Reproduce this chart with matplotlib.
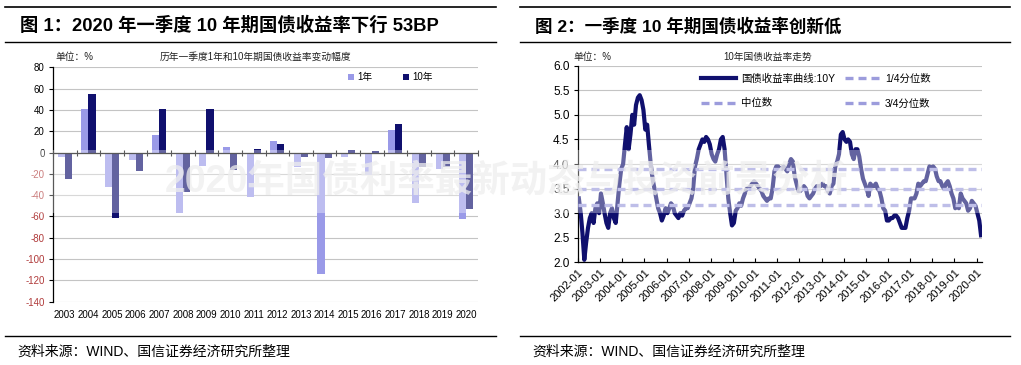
import matplotlib
matplotlib.use("Agg")
import matplotlib.pyplot as plt
from matplotlib.lines import Line2D
from matplotlib.patches import Rectangle
import numpy as np
import pandas as pd

plt.rcParams['font.family'] = ['Liberation Sans', 'Noto Sans CJK SC', 'DejaVu Sans']
plt.rcParams['axes.unicode_minus'] = False

# ---------------- data: chart 1 ----------------
years = ['2003', '2004', '2005', '2006', '2007', '2008', '2009', '2010', '2011',
         '2012', '2013', '2014', '2015', '2016', '2017', '2018', '2019', '2020']
chg_1y = [-4, 41, -32, -7, 16, -57, -13, 5, -42,
          11, -14, -114, -4, -21, 21, -47, -15, -62]
chg_10y = [-25, 55, -61, -17, 41, -37, 41, -16, 3,
           8, -4, -5, 2, 1, 27, -14, -14, -53]

# ---------------- data: chart 2 (monthly, 10Y yield, %) ----------------
y2002 = [3.30, 3.00, 2.60, 2.05, 2.40, 2.70, 2.90, 3.00, 2.80, 3.10, 3.20, 3.00]
y2003 = [3.40, 3.20, 3.00, 2.80, 2.70, 3.00, 3.10, 2.90, 2.80, 3.20, 3.60, 3.90]
y2004 = [4.00, 4.40, 4.75, 4.30, 4.60, 5.00, 4.80, 5.20, 5.35, 5.40, 5.30, 5.10]
y2005 = [4.70, 4.80, 4.40, 4.00, 3.70, 3.50, 3.30, 3.10, 3.00, 2.85, 2.95, 3.10]
y2006 = [3.00, 3.10, 3.20, 3.15, 3.00, 2.95, 2.90, 3.00, 2.95, 3.05, 3.10, 3.10]
y2007 = [3.20, 3.30, 3.50, 3.95, 4.10, 4.30, 4.40, 4.50, 4.45, 4.55, 4.50, 4.40]
y2008 = [4.20, 4.10, 4.05, 4.20, 4.30, 4.50, 4.55, 4.30, 3.80, 3.30, 3.00, 2.75]
y2009 = [2.80, 3.05, 3.10, 3.20, 3.15, 3.30, 3.40, 3.50, 3.50, 3.55, 3.60, 3.65]
y2010 = [3.60, 3.55, 3.50, 3.45, 3.35, 3.30, 3.25, 3.30, 3.30, 3.50, 3.85, 3.95]
y2011 = [3.95, 3.90, 3.90, 3.95, 3.90, 3.85, 4.00, 4.10, 4.05, 3.75, 3.60, 3.45]
y2012 = [3.45, 3.50, 3.55, 3.50, 3.35, 3.30, 3.35, 3.40, 3.50, 3.55, 3.55, 3.55]
y2013 = [3.60, 3.55, 3.55, 3.45, 3.40, 3.55, 3.60, 3.95, 4.05, 4.20, 4.60, 4.65]
y2014 = [4.50, 4.45, 4.50, 4.45, 4.20, 4.10, 4.30, 4.30, 4.15, 3.90, 3.70, 3.60]
y2015 = [3.50, 3.35, 3.60, 3.55, 3.55, 3.60, 3.50, 3.45, 3.30, 3.10, 3.05, 2.85]
y2016 = [2.85, 2.90, 2.90, 2.95, 2.95, 2.90, 2.80, 2.70, 2.70, 2.70, 2.90, 3.05]
y2017 = [3.30, 3.30, 3.30, 3.40, 3.60, 3.55, 3.60, 3.65, 3.65, 3.80, 3.95, 3.90]
y2018 = [3.95, 3.90, 3.75, 3.65, 3.65, 3.55, 3.50, 3.60, 3.65, 3.55, 3.40, 3.30]
y2019 = [3.10, 3.15, 3.10, 3.40, 3.30, 3.25, 3.20, 3.05, 3.10, 3.25, 3.20, 3.15]
y2020 = [3.00, 2.85, 2.55]
q1_val = 3.16
median_val = 3.50
q3_val = 3.90
xtick_years = list(range(2002, 2021))

yields = (y2002 + y2003 + y2004 + y2005 + y2006 + y2007 + y2008 + y2009 + y2010 +
          y2011 + y2012 + y2013 + y2014 + y2015 + y2016 + y2017 + y2018 + y2019 + y2020)
dates = pd.date_range('2002-01-01', periods=len(yields), freq='MS') + pd.Timedelta(days=14)

W, H = 1021, 365
fig = plt.figure(figsize=(W / 100, H / 100), dpi=100)
fig.patch.set_facecolor('white')

def fx(px):
    return px / W

def fy(py):
    return 1 - py / H

LIGHT = '#9a9ae8'
NAVY = '#10106e'
GRID = '#c4c4c4'
NEGRED = '#b03a3a'

# header / footer lines
for x0, x1 in [(5, 496), (520, 1010)]:
    for yy, lw in [(7, 1.2), (41.7, 1.0), (336, 1.0)]:
        fig.add_artist(Line2D([fx(x0), fx(x1)], [fy(yy), fy(yy)], color='black', lw=lw))

fig.text(fx(20), fy(26), '图 1：2020 年一季度 10 年期国债收益率下行 53BP', fontsize=13.2,
         fontweight='bold', va='center', ha='left')
fig.text(fx(535), fy(26), '图 2：一季度 10 年期国债收益率创新低', fontsize=12.6,
         fontweight='bold', va='center', ha='left')
fig.text(fx(17), fy(352), '资料来源：WIND、国信证券经济研究所整理', fontsize=10,
         va='center', ha='left')
fig.text(fx(532), fy(352), '资料来源：WIND、国信证券经济研究所整理', fontsize=10,
         va='center', ha='left')

# ---------------- chart 1 ----------------
ax1 = fig.add_axes([fx(53), fy(301.7), fx(478) - fx(53), fy(67.3) - fy(301.7)])
x = np.arange(len(years))
bw = 0.3
ax1.bar(x - bw / 2, chg_1y, width=bw, color=LIGHT, label='1年', zorder=3)
ax1.bar(x + bw / 2, chg_10y, width=bw, color=NAVY, label='10年', zorder=3)
ax1.set_xlim(-0.5, len(years) - 0.5)
ax1.set_ylim(-140, 80)
ax1.set_yticks(np.arange(-140, 81, 20))
ax1.set_yticklabels([str(v) for v in range(-140, 81, 20)], fontsize=7)
for lab, v in zip(ax1.get_yticklabels(), range(-140, 81, 20)):
    if v < 0:
        lab.set_color(NEGRED)
ax1.set_xticks(x)
ax1.set_xticklabels(years, fontsize=7)
ax1.tick_params(axis='x', length=0, pad=6)
ax1.tick_params(axis='y', length=3, width=0.8, direction='out', pad=3)
ax1.grid(axis='y', color=GRID, lw=0.8, zorder=0)
for s in ['top', 'right', 'bottom']:
    ax1.spines[s].set_visible(False)
ax1.spines['left'].set_color('black')
ax1.spines['left'].set_linewidth(0.9)
ax1.axhline(0, color='black', lw=0.9, zorder=4)
sec = ax1.secondary_xaxis(140 / 220)
sec.set_xticks(np.arange(-0.5, len(years), 1.0))
sec.set_xticklabels([])
sec.tick_params(axis='x', direction='inout', length=4, width=0.8)
sec.spines['bottom'].set_visible(False)
sec.spines['top'].set_visible(False)
ax1.legend(loc='center left', bbox_to_anchor=(0.695, 0.958), ncol=2, frameon=False,
           fontsize=7, handlelength=0.6, handleheight=0.6, handletextpad=0.3,
           columnspacing=3.2, borderaxespad=0, borderpad=0)
fig.text(fx(55), fy(57), '单位：%', fontsize=7, va='center', ha='left', color='#222222')
fig.text(fx(255), fy(57), '历年一季度1年和10年期国债收益率变动幅度', fontsize=7,
         va='center', ha='center', color='#222222')

# ---------------- chart 2 ----------------
ax2 = fig.add_axes([fx(578), fy(262.3), fx(982) - fx(578), fy(65.7) - fy(262.3)])
ax2.plot(dates, yields, color=NAVY, lw=3.0, zorder=3, label='国债收益率曲线:10Y')
dash = dict(color='#9c9cdc', lw=2.4, dashes=(2.4, 1.5), zorder=4)
ax2.axhline(median_val, label='中位数', **dash)
ax2.axhline(q1_val, label='1/4分位数', **dash)
ax2.axhline(q3_val, label='3/4分位数', **dash)
ax2.set_xlim(pd.Timestamp('2002-01-01'), pd.Timestamp('2020-03-31'))
ax2.set_ylim(2.0, 6.0)
ax2.set_yticks(np.arange(2.0, 6.01, 0.5))
ax2.set_yticklabels([f'{v:.1f}' for v in np.arange(2.0, 6.01, 0.5)], fontsize=8.5)
xt = [pd.Timestamp(f'{yy}-01-01') for yy in xtick_years]
ax2.set_xticks(xt)
ax2.set_xticklabels([f'{yy}-01' for yy in xtick_years], fontsize=8, rotation=45,
                    ha='right', rotation_mode='anchor')
ax2.tick_params(axis='x', direction='in', length=3, width=0.8, pad=4)
ax2.tick_params(axis='y', direction='out', length=3, width=0.8, pad=3)
ax2.grid(axis='y', color=GRID, lw=0.8, zorder=0)
for s in ['top', 'right']:
    ax2.spines[s].set_visible(False)
for s in ['left', 'bottom']:
    ax2.spines[s].set_color('black')
    ax2.spines[s].set_linewidth(0.9)
h, l = ax2.get_legend_handles_labels()
ax2.legend(h, l, ncol=2, loc='upper left',
           bbox_to_anchor=(0.305, 0.96), frameon=False, fontsize=7.5,
           handlelength=3.3, handletextpad=0.5, labelspacing=1.4, columnspacing=1.0,
           borderaxespad=0, borderpad=0)
fig.text(fx(573), fy(57), '单位：%', fontsize=7, va='center', ha='left', color='#222222')
fig.text(fx(768), fy(57), '10年国债收益率走势', fontsize=7, va='center', ha='center',
         color='#222222')

# watermark band
fig.add_artist(Rectangle((0, fy(213)), 1, fy(150) - fy(213), transform=fig.transFigure,
                         facecolor='white', alpha=0.35, edgecolor='none', zorder=10))
fig.text(fx(165), fy(182), '2020年国债利率最新动态与投资前景分析', fontsize=27,
         fontweight='bold', color='#eeeeee', alpha=0.75, va='center', ha='left', zorder=11)

fig.savefig('out.png', dpi=100)
